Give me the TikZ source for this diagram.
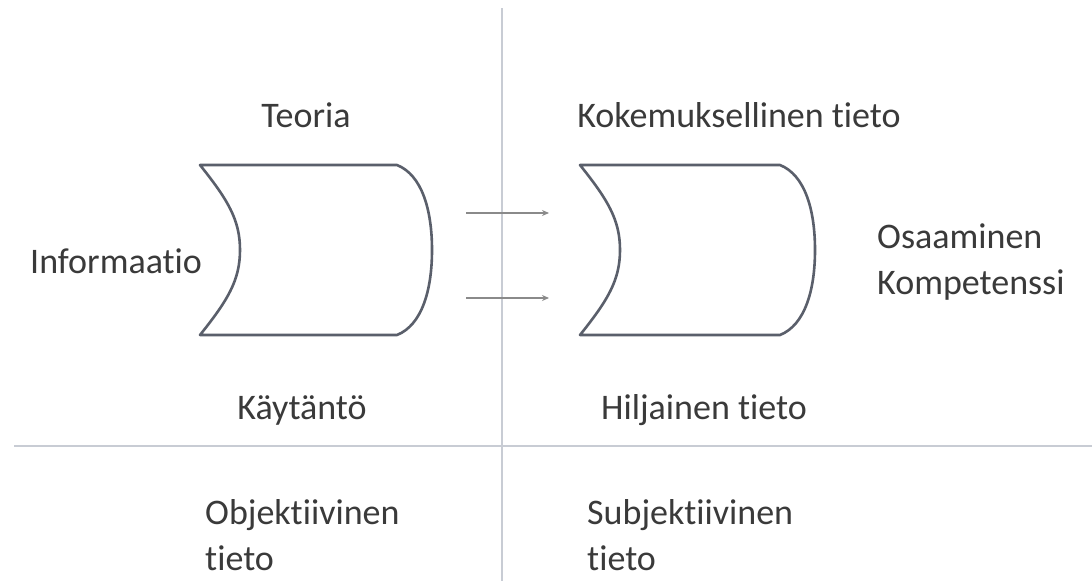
\documentclass[tikz,border=0pt]{standalone}
\usepackage{fontspec}
\setmainfont[Ligatures=NoCommon]{Carlito}
\usetikzlibrary{arrows.meta}
\definecolor{shapeline}{HTML}{5A5F6B}
\definecolor{txt}{HTML}{3A3A3A}
\definecolor{rule}{HTML}{C8CCD4}
\definecolor{arr}{HTML}{8A8A8A}
\tikzset{
  lbl/.style={font=\fontsize{36}{46}\selectfont, text=txt, inner sep=0pt},
  store/.style={draw=shapeline, line width=2.6pt, fill=white, line join=round},
  flow/.style={draw=arr, line width=1.4pt, -{Stealth[length=7pt,width=6pt]}},
  divider/.style={draw=rule, line width=2.4pt}
}
\begin{document}
\begin{tikzpicture}[x=1pt,y=-1pt]
\useasboundingbox (0,0) rectangle (1092,581);
\fill[white] (0,0) rectangle (1092,581);
% dividers
\coordinate (vtop) at (502,8);
\coordinate (vbot) at (502,581);
\coordinate (hl) at (14,446);
\coordinate (hr) at (1092,446);
\draw[divider] (vtop) -- (vbot);
\draw[divider] (hr) -- (hl);
% stored-data shapes
\draw[store] (200,165) -- (397,165)
  .. controls (422,175) and (432,210) .. (432,250)
  .. controls (432,290) and (422,325) .. (397,335)
  -- (200,335)
  .. controls (228,300) and (240,280) .. (240,250)
  .. controls (240,220) and (228,200) .. (200,165) -- cycle;
\draw[store] (580,165) -- (780,165)
  .. controls (805,175) and (815,210) .. (815,250)
  .. controls (815,290) and (805,325) .. (780,335)
  -- (580,335)
  .. controls (608,300) and (620,280) .. (620,250)
  .. controls (620,220) and (608,200) .. (580,165) -- cycle;
% arrows
\coordinate (a1s) at (466,213);
\coordinate (a1e) at (549,213);
\coordinate (a2s) at (466,298);
\coordinate (a2e) at (549,298);
\draw[flow] (a1s) -- (a1e);
\draw[flow] (a2s) -- (a2e);
% labels
\node[lbl] (teoria) at (306,115) {Teoria};
\node[lbl] (koke) at (739,115) {Kokemuksellinen tieto};
\node[lbl, anchor=west] (info) at (30,261) {Informaatio};
\node[lbl, anchor=west, align=left] (osaa) at (877,262) {Osaaminen\\Kompetenssi};
\node[lbl] (kayt) at (302,410) {Käytäntö};
\node[lbl] (hilj) at (704,410) {Hiljainen tieto};
\node[lbl, anchor=west, align=left] (obj) at (205,535) {Objektiivinen\\tieto};
\node[lbl, anchor=west, align=left] (subj) at (587,535) {Subjektiivinen\\tieto};
\end{tikzpicture}
\end{document}
